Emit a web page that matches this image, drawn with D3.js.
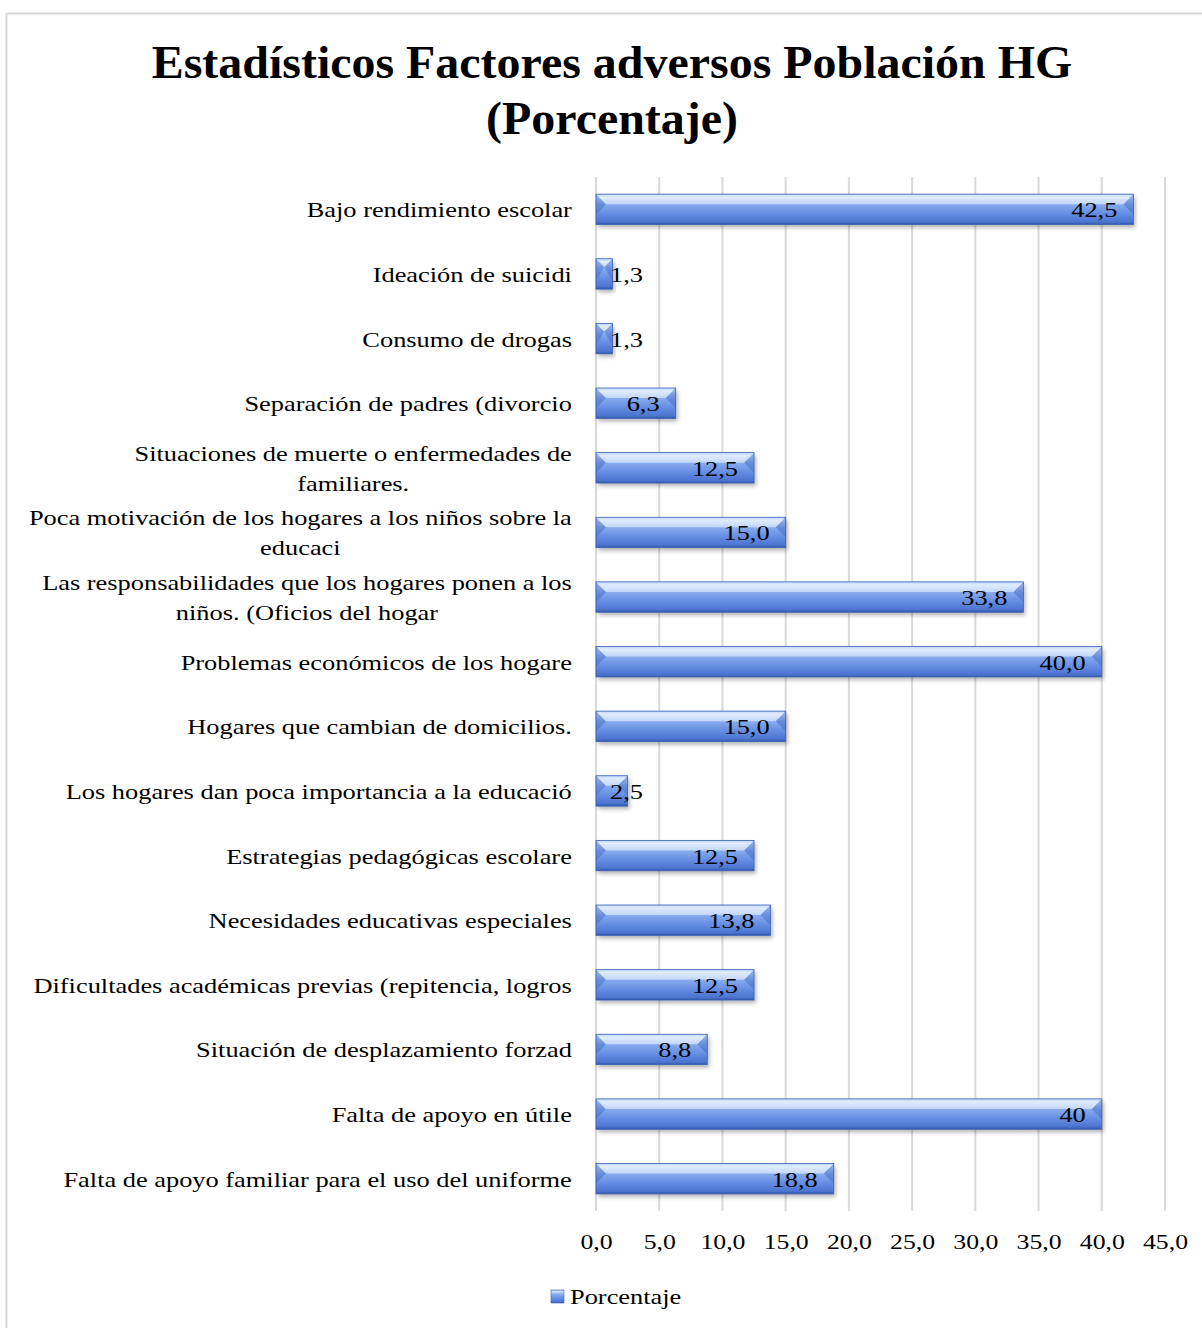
<!DOCTYPE html>
<html>
<head>
<meta charset="utf-8">
<script src="https://cdn.jsdelivr.net/npm/d3@7"></script>
<style>
  body { margin: 0; background: #fff; }
  text { font-family: "Liberation Serif", "Times New Roman", serif; fill: #000; }
</style>
</head>
<body>
<div id="chart"></div>
<script>
  "use strict";
  // Chart data
  const titleLines = ["Estadísticos Factores adversos Población HG", "(Porcentaje)"];
  const categories = [
    ["Bajo rendimiento escolar"],
    ["Ideación de suicidi"],
    ["Consumo de drogas"],
    ["Separación de padres (divorcio"],
    ["Situaciones de muerte o enfermedades de", "familiares."],
    ["Poca motivación de los hogares a los niños sobre la", "educaci"],
    ["Las responsabilidades que los hogares ponen a los", "niños. (Oficios del hogar"],
    ["Problemas económicos de los hogare"],
    ["Hogares que cambian de domicilios."],
    ["Los hogares dan poca importancia a la educació"],
    ["Estrategias pedagógicas escolare"],
    ["Necesidades educativas especiales"],
    ["Dificultades académicas previas (repitencia, logros"],
    ["Situación de desplazamiento forzad"],
    ["Falta de apoyo en útile"],
    ["Falta de apoyo familiar para el uso del uniforme"],
  ];
  const values = [42.5, 1.3, 1.3, 6.3, 12.5, 15.0, 33.8, 40.0, 15.0, 2.5, 12.5, 13.8, 12.5, 8.8, 40, 18.8];
  const valueLabels = ["42,5", "1,3", "1,3", "6,3", "12,5", "15,0", "33,8", "40,0", "15,0", "2,5", "12,5", "13,8", "12,5", "8,8", "40", "18,8"];
  const xTicks = [0, 5, 10, 15, 20, 25, 30, 35, 40, 45];
  const seriesName = "Porcentaje";

  const width = 1202, height = 1328;
  const margin = { left: 596, right: 37, top: 177, bottom: 116 };
  const sx = 1.2; // text in the source is stretched horizontally

  const svg = d3.select("#chart").append("svg")
    .attr("width", width).attr("height", height);

  const defs = svg.append("defs");
  // bevel-ish vertical gradient for bars
  const grad = defs.append("linearGradient")
    .attr("id", "barFill").attr("x1", 0).attr("x2", 0).attr("y1", 0).attr("y2", 1);
  [["0%", "#8fb4f2"], ["10%", "#d4e6fc"], ["35%", "#86aaee"], ["70%", "#5f88df"], ["92%", "#4c74cf"], ["100%", "#2e54a6"]]
    .forEach(([o, c]) => grad.append("stop").attr("offset", o).attr("stop-color", c));
  defs.append("filter").attr("id", "shadow")
    .attr("x", "-10%").attr("y", "-30%").attr("width", "130%").attr("height", "180%")
    .append("feDropShadow")
    .attr("dx", 2).attr("dy", 3).attr("stdDeviation", 2)
    .attr("flood-color", "#000").attr("flood-opacity", 0.3);

  // outer chart border
  svg.append("rect")
    .attr("x", 6.5).attr("y", 13.5).attr("width", 1210).attr("height", 1340)
    .attr("fill", "none").attr("stroke", "#d9d9d9").attr("stroke-width", 2);

  // title
  svg.append("g").selectAll("text").data(titleLines).join("text")
    .attr("transform", (d, i) => `translate(612, ${78 + i * 56}) scale(1.02, 1)`)
    .attr("text-anchor", "middle")
    .attr("font-size", 47).attr("font-weight", "bold")
    .text((d) => d);

  const x = d3.scaleLinear().domain([0, 45]).range([margin.left, width - margin.right]);
  const y = d3.scaleBand().domain(d3.range(categories.length))
    .range([margin.top, height - margin.bottom - 1]).paddingInner(0.53).paddingOuter(0.265);

  // gridlines
  svg.append("g").selectAll("line").data(xTicks).join("line")
    .attr("x1", (d) => x(d)).attr("x2", (d) => x(d))
    .attr("y1", margin.top).attr("y2", height - margin.bottom - 1)
    .attr("stroke", "#d9d9d9").attr("stroke-width", 2);

  // x axis labels
  const xAxis = svg.append("g")
    .attr("transform", `translate(0, ${height - margin.bottom + 11})`)
    .call(d3.axisBottom(x).tickValues(xTicks).tickSize(0).tickPadding(10)
      .tickFormat((d) => d3.format(".1f")(d).replace(".", ",")));
  xAxis.select(".domain").remove();
  xAxis.selectAll("text").attr("font-size", 22).attr("font-family", "Liberation Serif")
    .attr("fill", "#000").attr("transform", `scale(1.17, 1)`);

  // bars
  const bars = svg.append("g").selectAll("g").data(values).join("g")
    .attr("transform", (d, i) => `translate(${x(0)}, ${y(i)})`);
  const bh = y.bandwidth();
  bars.append("rect")
    .attr("width", (d) => x(d) - x(0)).attr("height", bh)
    .attr("fill", "url(#barFill)").attr("filter", "url(#shadow)");
  // bevel corners at ends
  const bev = Math.min(10, bh / 3);
  bars.append("path")
    .attr("d", (d) => {
      const w = x(d) - x(0), b = Math.min(bev, w / 2);
      return `M0,0 L${b},${b} L0,${bh - b} Z M${w},0 L${w - b},${b} L${w},${bh - b} Z`;
    })
    .attr("fill", "#3f66c2").attr("opacity", 0.45);
  bars.append("path")
    .attr("d", (d) => {
      const w = x(d) - x(0), b = Math.min(bev, w / 2);
      return `M0,0 L${w},0 L${w - b},${b} L${b},${b} Z`;
    })
    .attr("fill", "#e6f0ff").attr("opacity", 0.6);
  bars.append("rect")
    .attr("width", (d) => x(d) - x(0)).attr("height", bh)
    .attr("fill", "none").attr("stroke", "#3a62b8").attr("stroke-width", 0.8);

  // value labels (inside end)
  bars.append("text")
    .attr("transform", (d) => `translate(${Math.max(x(d) - x(0) - 16, 47)}, ${bh / 2 + 8}) scale(${sx}, 1)`)
    .attr("text-anchor", "end").attr("font-size", 22)
    .text((d, i) => valueLabels[i]);

  // category labels, wrapped lines centered as a block right-aligned to axis
  const labelRight = margin.left - 24;
  const catG = svg.append("g");
  categories.forEach((lines, i) => {
    const cy = y(i) + bh / 2;
    const lh = 30;
    const t0 = cy - (lines.length - 1) * lh / 2 + 8;
    const g = catG.append("g");
    const txt = lines.map((l, j) => g.append("text").attr("font-size", 22).attr("text-anchor", "middle").text(l));
    const maxW = d3.max(txt, (t) => t.node().getComputedTextLength()) * sx;
    txt.forEach((t, j) => t.attr("transform", `translate(${labelRight - maxW / 2}, ${t0 + j * lh}) scale(${sx}, 1)`));
  });

  // legend
  const lg = svg.append("g").attr("transform", "translate(551, 1290)");
  lg.append("rect").attr("width", 13).attr("height", 13).attr("fill", "url(#barFill)")
    .attr("stroke", "#3a62b8").attr("stroke-width", 0.6);
  lg.append("text").attr("transform", `translate(19, 14) scale(${sx}, 1)`).attr("font-size", 22).text(seriesName);
</script>
</body>
</html>
